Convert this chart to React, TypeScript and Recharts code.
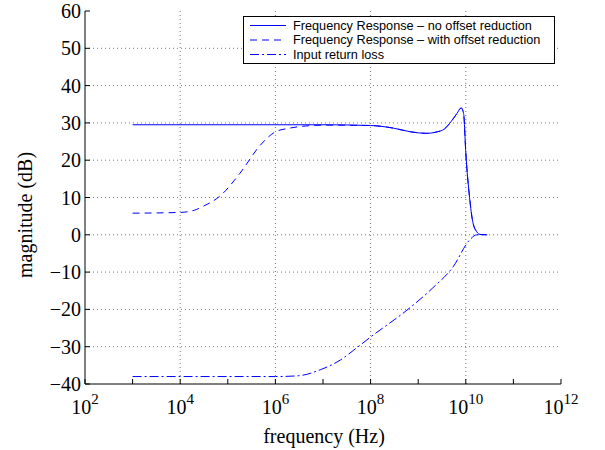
import { LineChart, Line, XAxis, YAxis, ReferenceLine } from 'recharts';

// frequency (Hz) / magnitude (dB)
const noOffsetFreq = [1e3, 1e5, 1e7, 1e8, 3e8, 7e8, 1.5e9, 2.5e9, 3.5e9, 5e9, 6.5e9, 8e9, 9e9, 1e10, 1.2e10, 1.4e10, 1.7e10, 2e10, 2.8e10];
const noOffsetDb = [29.5, 29.5, 29.5, 29.3, 28.6, 27.6, 27.2, 27.6, 28.3, 30.5, 32.5, 34, 32.5, 22, 10, 3.5, 0.8, 0.1, 0];

const withOffsetFreq = [1e3, 1e4, 2e4, 3e4, 7e4, 1.8e5, 4.8e5, 1e6, 2e6, 4.6e6, 1e7, 1e8, 3e8, 7e8, 1.5e9, 2.5e9, 3.5e9, 5e9, 6.5e9, 8e9, 9e9, 1e10, 1.2e10, 1.4e10, 1.7e10, 2e10, 2.8e10];
const withOffsetDb = [5.8, 6, 6.6, 7.6, 10.5, 16.5, 24, 27.6, 28.6, 29.2, 29.4, 29.3, 28.6, 27.6, 27.2, 27.6, 28.3, 30.5, 32.5, 34, 32.5, 22, 10, 3.5, 0.8, 0.1, 0];

const returnLossFreq = [1e3, 1e6, 3e6, 8.7e6, 2.3e7, 5.1e7, 1e8, 5.8e8, 2e9, 5.4e9, 1.2e10, 1.7e10, 2.8e10];
const returnLossDb = [-38, -38, -37.8, -36.2, -33.6, -30.3, -27.4, -20.2, -14.3, -8.6, -1.4, 0, 0];

const xTicks = [1e2, 1e3, 1e4, 1e5, 1e6, 1e7, 1e8, 1e9, 1e10, 1e11, 1e12];
const yTicks = [-40, -30, -20, -10, 0, 10, 20, 30, 40, 50, 60];
const legendLabels = [
  'Frequency Response \u2013 no offset reduction',
  'Frequency Response \u2013 with offset reduction',
  'Input return loss',
];
const dashes = [undefined, '7 5', '9 3 2 3'];

const toRows = (fs: number[], ds: number[]) => fs.map((f, i) => ({ f, db: ds[i] }));
const noOffset = toRows(noOffsetFreq, noOffsetDb);
const withOffset = toRows(withOffsetFreq, withOffsetDb);
const returnLoss = toRows(returnLossFreq, returnLossDb);

const BLUE = '#0000ff';
const SERIF = '"Liberation Serif", "Times New Roman", serif';
const SANS = '"Liberation Sans", Arial, sans-serif';

const exp = (v: number) => Math.round(Math.log10(v));

function BottomTick({ x, y, payload }: any) {
  const e = exp(payload.value);
  return (
    <g>
      <line x1={x} x2={x} y1={y} y2={y - 5} stroke="#000" />
      {e % 2 === 0 && (
        <text x={x} y={y + 30} textAnchor="middle" fontFamily={SERIF} fontSize={20} fill="#000">
          <tspan>10</tspan>
          <tspan dy={-10} fontSize={15}>{e}</tspan>
        </text>
      )}
    </g>
  );
}

function TopTick({ x, y }: any) {
  return <line x1={x} x2={x} y1={y} y2={y + 5} stroke="#000" />;
}

function LeftTick({ x, y, payload }: any) {
  const v = payload.value;
  return (
    <g>
      <line x1={x} x2={x + 5} y1={y} y2={y} stroke="#000" />
      <text x={x - 4} y={y} dy="0.35em" textAnchor="end" fontFamily={SERIF} fontSize={20} fill="#000">
        {v < 0 ? '\u2212' + Math.abs(v) : v}
      </text>
    </g>
  );
}

function RightTick({ x, y }: any) {
  return <line x1={x} x2={x - 5} y1={y} y2={y} stroke="#000" />;
}

export default function App() {
  return (
    <div style={{ position: 'absolute', left: 0, top: 0, width: 605, height: 450, background: '#fff' }}>
      <LineChart width={605} height={450} margin={{ top: 11, right: 44, bottom: 36, left: 25 }}>
        <XAxis dataKey="f" type="number" scale="log" domain={[1e2, 1e12]} ticks={xTicks} allowDataOverflow
          interval={0} tick={<BottomTick />} tickLine={false} tickSize={0} tickMargin={0} height={30}
          axisLine={{ stroke: '#000' }} />
        <XAxis xAxisId="top" orientation="top" dataKey="f" type="number" scale="log" domain={[1e2, 1e12]}
          ticks={xTicks} allowDataOverflow interval={0} tick={<TopTick />} tickLine={false} tickSize={0}
          tickMargin={0} height={0} axisLine={{ stroke: '#000' }} />
        <YAxis type="number" domain={[-40, 60]} ticks={yTicks} interval={0} tick={<LeftTick />} tickLine={false}
          tickSize={0} tickMargin={0} width={60} axisLine={{ stroke: '#000' }} />
        <YAxis yAxisId="right" orientation="right" type="number" domain={[-40, 60]} ticks={yTicks} interval={0}
          tick={<RightTick />} tickLine={false} tickSize={0} tickMargin={0} width={0} axisLine={{ stroke: '#000' }} />

        {xTicks.filter((t) => exp(t) % 2 === 0 && t > 1e2 && t < 1e12).map((t) => (
          <ReferenceLine key={'gx' + t} x={t} stroke="#777" strokeDasharray="1 3" />
        ))}
        {yTicks.slice(1, -1).map((t) => (
          <ReferenceLine key={'gy' + t} y={t} stroke="#777" strokeDasharray="1 3" />
        ))}

        <Line data={returnLoss} dataKey="db" type="monotone" stroke={BLUE} strokeWidth={1}
          strokeDasharray={dashes[2]} dot={false} isAnimationActive={false} />
        <Line data={withOffset} dataKey="db" type="monotone" stroke={BLUE} strokeWidth={1}
          strokeDasharray={dashes[1]} dot={false} isAnimationActive={false} />
        <Line data={noOffset} dataKey="db" type="monotone" stroke={BLUE} strokeWidth={1}
          dot={false} isAnimationActive={false} />
      </LineChart>

      <svg width={605} height={450} style={{ position: 'absolute', left: 0, top: 0, pointerEvents: 'none' }}>
        <text x={324} y={443} textAnchor="middle" fontFamily={SERIF} fontSize={20} fill="#000">frequency (Hz)</text>
        <text transform="translate(32,215) rotate(-90)" textAnchor="middle" fontFamily={SERIF} fontSize={20} fill="#000">
          magnitude (dB)
        </text>
        <g>
          <rect x={243.5} y={16.5} width={311} height={47} fill="#fff" stroke="#000" />
          {legendLabels.map((lab, i) => (
            <g key={lab}>
              <line x1={250} x2={286} y1={25.5 + i * 14.5} y2={25.5 + i * 14.5} stroke={BLUE} strokeDasharray={dashes[i]} />
              <text x={293} y={25.5 + i * 14.5} dy="0.35em" fontFamily={SANS} fontSize={12.7} fill="#000">{lab}</text>
            </g>
          ))}
        </g>
      </svg>
    </div>
  );
}
